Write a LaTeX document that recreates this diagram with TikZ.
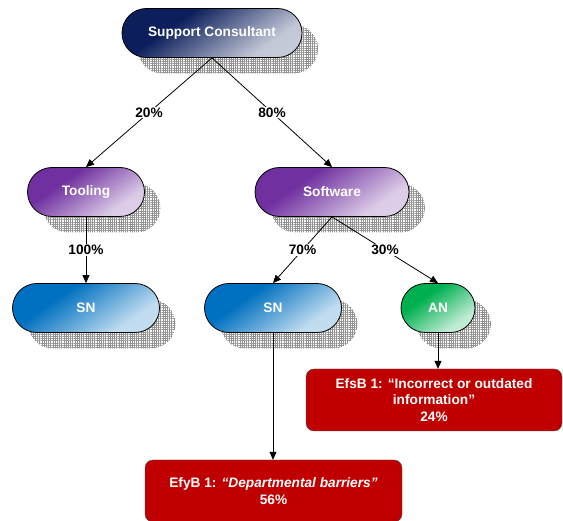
\documentclass[tikz,border=0pt]{standalone}
\usepackage{fontspec}
\setmainfont{Liberation Sans}
\usetikzlibrary{arrows.meta,patterns.meta}

\definecolor{navyc}{HTML}{0C1F5C}
\definecolor{purplec}{HTML}{7030A0}
\definecolor{bluec}{HTML}{0070C0}
\definecolor{greenc}{HTML}{00B050}
\definecolor{redc}{HTML}{C00000}
\colorlet{pcol}{navyc}

% dark at the top left, light at the bottom right
\pgfdeclareverticalshading[pcol]{pillshade}{100bp}{color(0bp)=(pcol!20!white);
	color(30bp)=(pcol!25!white); color(48bp)=(pcol!65!white); color(64bp)=(pcol); color(100bp)=(pcol)}

\tikzset{
	lbl/.style={font=\fontsize{13.7}{16.5}\selectfont\bfseries},
	pill/.style={lbl, draw=black, line width=0.8pt, rounded corners=24.5pt,
		minimum height=49pt, text=white,
		preaction={draw=none, pattern={Hatch[angle=0,distance=2.2pt,line width=0.5pt]},
			pattern color=gray!85, transform canvas={shift={(16pt,-16pt)}}}},
	pillc/.style={pill, /utils/exec={\colorlet{pcol}{#1}}, shade, shading=pillshade,
		shading angle=35},
	redbox/.style={lbl, draw=black!70, fill=redc, rounded corners=8pt, text=white,
		align=center, minimum height=62pt},
	pct/.style={lbl, fill=white, inner sep=1pt},
	link/.style={line width=0.8pt, -{Triangle[length=8pt,width=7pt]}}
}

\begin{document}
\begin{tikzpicture}[x=1pt,y=-1pt]
	\useasboundingbox (0,0) rectangle (563,521);
	% top level
	\node[pillc=navyc, minimum width=180pt] (sc) at (212,33) {Support Consultant};
	% second level
	\node[pillc=purplec, minimum width=117pt] (tool) at (86,192) {Tooling};
	\node[pillc=purplec, minimum width=154pt] (soft) at (332,192) {Software};
	% third level
	\node[pillc=bluec, minimum width=147pt] (sn1) at (86,308) {SN};
	\node[pillc=bluec, minimum width=137pt] (sn2) at (273,308) {SN};
	\node[pillc=greenc, minimum width=74pt] (an) at (438,308) {AN};
	% results
	\node[redbox, minimum width=256pt] (efsb) at (434,400)
		{EfsB 1: “Incorrect or outdated\\ information”\\ 24\%};
	\node[redbox, minimum width=257pt] (efyb) at (273.5,491)
		{EfyB 1: \textit{“Departmental barriers”}\\ 56\%};
	% links
	\draw[link] (sc.south) -- node[pct] {20\%} (tool.north);
	\draw[link] (sc.south) -- node[pct] {80\%} (soft.north);
	\draw[link] (tool.south) -- node[pct] {100\%} (sn1.north);
	\draw[link] (soft.south) -- node[pct] {70\%} (sn2.north);
	\draw[link] (soft.south) -- node[pct] {30\%} (an.north);
	\draw[link] (an.south) -- (an.south |- efsb.north);
	\draw[link] (sn2.south) -- (sn2.south |- efyb.north);
\end{tikzpicture}
\end{document}
